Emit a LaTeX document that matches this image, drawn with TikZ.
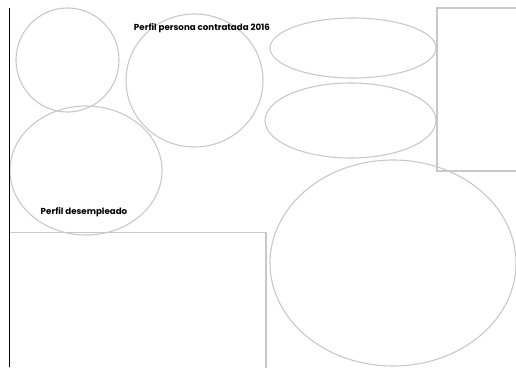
\documentclass[tikz,border=0pt]{standalone}
\usepackage{fontspec}
\setmainfont{Poppins}
\usetikzlibrary{positioning}
\definecolor{edgegray}{RGB}{200,200,200}

\begin{document}
\begin{tikzpicture}[x=1pt, y=-1pt,
  shapeline/.style={draw=edgegray, line width=1.1pt},
  titletext/.style={font=\bfseries\fontsize{8.7}{10}\selectfont, inner sep=0pt}]
\useasboundingbox (0,0) rectangle (516,367);
% Circles and ellipses
\draw[shapeline] (67.5,60) ellipse [x radius=51.5, y radius=52];
\draw[shapeline] (194.5,80.5) ellipse [x radius=68.5, y radius=66.5];
\draw[shapeline] (86,170.5) ellipse [x radius=76, y radius=64.5];
\draw[shapeline] (353,48) ellipse [x radius=83, y radius=30];
\draw[shapeline] (350.5,120.5) ellipse [x radius=85.5, y radius=37.5];
\draw[shapeline] (393,263) ellipse [x radius=123, y radius=103];
% Boxes
\draw[shapeline] (437,8) rectangle (520,171);
\draw[shapeline] (9.5,232.5) rectangle (266,372);
% Axis line
\draw[black, line width=0.9pt] (9.5,8) -- (9.5,367);
% Labels
\node[titletext] (contratada) at (202,28) {Perfil persona contratada 2016};
\node[titletext] (desempleado) at (84,212) {Perfil desempleado};
\end{tikzpicture}
\end{document}
